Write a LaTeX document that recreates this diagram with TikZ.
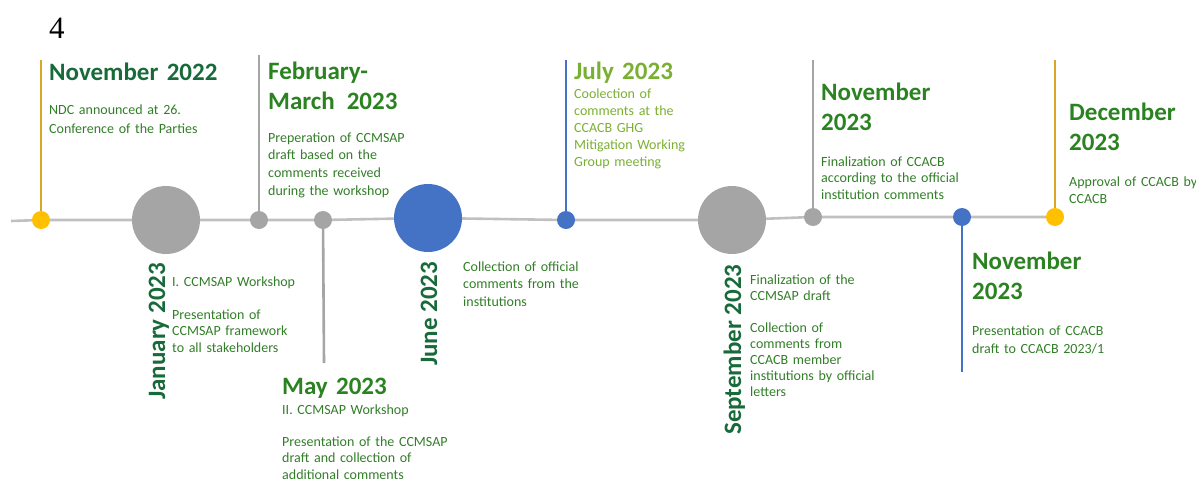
\documentclass[tikz,border=0pt]{standalone}
\usepackage{fontspec}
\setmainfont{Carlito}
\newfontfamily\numfont{Liberation Serif}
\usetikzlibrary{backgrounds}
\definecolor{dkgreen}{RGB}{24,106,58}
\definecolor{mdgreen}{RGB}{42,130,32}
\definecolor{ltgreen}{RGB}{122,176,50}
\definecolor{bdgreen}{RGB}{50,126,40}
\definecolor{yfill}{RGB}{255,192,0}
\definecolor{yline}{RGB}{218,168,38}
\definecolor{gfill}{RGB}{165,165,165}
\definecolor{tline}{RGB}{192,192,192}
\definecolor{bfill}{RGB}{68,114,196}
\tikzset{
  dot/.style={circle, fill=#1, draw=none, inner sep=0pt},
  smalldot/.style={dot=#1, minimum size=18pt},
  bigdot/.style={dot=#1, minimum size=68pt},
  timeline/.style={draw=tline, line width=2.6pt},
  stem/.style={draw=#1, line width=2.6pt},
  ttl/.style={anchor=base west, inner sep=0pt, text width=240pt, align=left,
    font=\fontsize{25}{30}\selectfont\bfseries},
  vttl/.style={anchor=base west, inner sep=0pt, rotate=90,
    font=\fontsize{25}{30}\selectfont\bfseries, text=dkgreen},
  body/.style={anchor=base west, inner sep=0pt, text width=240pt, align=left,
    font=\fontsize{14}{17}\selectfont, text=bdgreen}
}
\begin{document}
\begin{tikzpicture}[x=1pt,y=-1pt]
\useasboundingbox (0,0) rectangle (1196,482);

% page number
\node[anchor=base west, inner sep=0pt, font=\numfont\fontsize{31}{36}\selectfont] (pg) at (49,38) {4};

% circles
\node[smalldot=yfill] (c1) at (41,220) {};
\node[bigdot=gfill] (c2) at (166,220) {};
\node[smalldot=gfill] (c3) at (259,220) {};
\node[smalldot=gfill] (c4) at (323,220) {};
\node[bigdot=bfill] (c5) at (428,218) {};
\node[smalldot=bfill] (c6) at (566,220) {};
\node[bigdot=gfill] (c7) at (732,220) {};
\node[smalldot=gfill] (c8) at (813,217) {};
\node[smalldot=bfill] (c9) at (962,217) {};
\node[smalldot=yfill] (c10) at (1055,217) {};

% stem ends
\coordinate (t1) at (41,60);
\coordinate (t3) at (259,55);
\coordinate (t4) at (324,363);
\coordinate (t6) at (566,60);
\coordinate (t8) at (813,60);
\coordinate (t9) at (962,372);
\coordinate (t10) at (1055,60);
\coordinate (start) at (11,221);

\begin{pgfonlayer}{background}
\draw[timeline] (start) -- (c1.center) -- (c2.center) -- (c3.center) -- (c4.center)
  -- (c5.center) -- (c6.center) -- (c7.center) -- (c8.center) -- (c9.center) -- (c10.center);
\draw[stem=yline] (c1.center) -- (t1);
\draw[stem=gfill] (c3.center) -- (t3);
\draw[stem=gfill] (c4.center) -- (t4);
\draw[stem=bfill] (c6.center) -- (t6);
\draw[stem=gfill] (c8.center) -- (t8);
\draw[stem=bfill] (c9.center) -- (t9);
\draw[stem=yline] (c10.center) -- (t10);
\end{pgfonlayer}

% November 2022
\node[ttl, text=dkgreen] (h1) at (49,80) {November 2022};
\node[body, font=\fontsize{14}{19}\selectfont] (b1) at (49,114) {NDC announced at 26.\\Conference of the Parties};

% January 2023
\node[vttl] (h2) at (165,400) {January 2023};
\node[body, font=\fontsize{14}{16.5}\selectfont] (b2) at (172,286) {I. CCMSAP Workshop\\[16.5pt]Presentation of\\CCMSAP framework\\to all stakeholders};

% February-March 2023
\node[ttl, text=mdgreen] (h3) at (268,79) {February-\\March\hspace{12pt}2023};
\node[body, font=\fontsize{14}{17.7}\selectfont] (b3) at (268,142) {Preperation of CCMSAP\\draft based on the\\comments received\\during the workshop};

% May 2023
\node[ttl, text=mdgreen] (h4) at (282,394) {May 2023};
\node[body, font=\fontsize{14}{16.3}\selectfont] (b4) at (282,414) {II. CCMSAP Workshop\\[16.3pt]Presentation of the CCMSAP\\draft and collection of\\additional comments};

% June 2023
\node[vttl] (h5) at (437,366) {June 2023};
\node[body, font=\fontsize{14}{17.5}\selectfont] (b5) at (463,271) {Collection of official\\comments from the\\institutions};

% July 2023
\node[ttl, text=ltgreen] (h6) at (574,79) {July 2023};
\node[body, text=ltgreen, font=\fontsize{14}{17}\selectfont] (b6) at (574,98) {Coolection of\\comments at the\\CCACB GHG\\Mitigation Working\\Group meeting};

% September 2023
\node[vttl] (h7) at (741,435) {September 2023};
\node[body, font=\fontsize{14}{16}\selectfont] (b7) at (750,284) {Finalization of the\\CCMSAP draft\\[16pt]Collection of\\comments from\\CCACB member\\institutions by official\\letters};

% November 2023 (upper)
\node[ttl, text=mdgreen] (h8) at (821,100) {November\\2023};
\node[body, font=\fontsize{14}{16.5}\selectfont] (b8) at (821,166) {Finalization of CCACB\\according to the official\\institution comments};

% November 2023 (lower)
\node[ttl, text=mdgreen] (h9) at (972,269) {November\\2023};
\node[body, font=\fontsize{14}{18}\selectfont] (b9) at (972,335) {Presentation of CCACB\\draft to CCACB 2023/1};

% December 2023
\node[ttl, text=mdgreen] (h10) at (1069,120) {December\\2023};
\node[body, font=\fontsize{14}{17}\selectfont] (b10) at (1069,186) {Approval of CCACB by\\CCACB};
\end{tikzpicture}
\end{document}
